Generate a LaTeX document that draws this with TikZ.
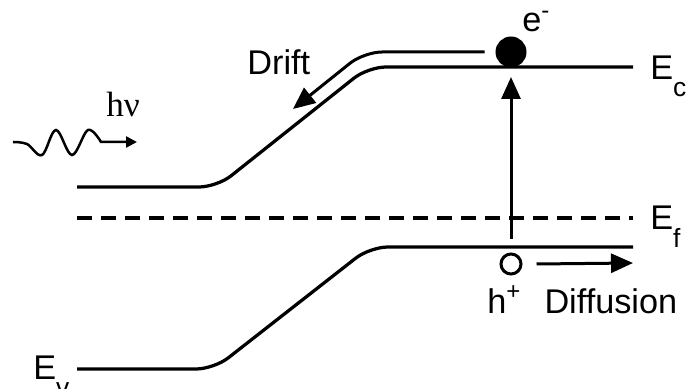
\documentclass[tikz,border=0pt]{standalone}
\usepackage{fontspec}
\setmainfont{Liberation Sans}
\newfontfamily\nufont{Liberation Serif}
\usepackage{tikz}
\usetikzlibrary{positioning,arrows.meta}
\definecolor{bLine}{RGB}{0,0,0}
\tikzset{
  band/.style={draw=bLine, line width=0.65mm, rounded corners=3.6mm},
  fermi/.style={draw=bLine, line width=0.9mm, dash pattern=on 3mm off 1.8mm},
  flow/.style={-{Triangle[length=4.4mm,width=3.8mm]}, draw=bLine, line width=0.6mm},
  photon/.style={-{Triangle[length=2.2mm,width=2.2mm]}, draw=bLine, line width=0.5mm},
  lbl/.style={font=\fontsize{19.5}{22}\selectfont, inner sep=0pt, anchor=base west},
  carrier/.style={circle, draw=bLine, line width=0.6mm, inner sep=0pt},
}
\newcommand{\lvlsub}[1]{\raisebox{-3.4mm}{\fontsize{15}{17}\selectfont #1}}

\begin{document}
\begin{tikzpicture}[x=0.2mm, y=-0.2mm]
  \useasboundingbox (0,0) rectangle (688,389);

  % --- band edges and Fermi level ---
  \draw[band] (77,187) -- (217,187) -- (368,67) -- (633,67);
  \draw[fermi] (77,218) -- (633,218);
  \draw[band] (77,369) -- (214,369) -- (370,247) -- (633,247);

  % --- electron and hole ---
  \node[carrier, fill=bLine, minimum size=5.6mm] (elec) at (511,52) {};
  \node[carrier, fill=white, minimum size=4mm] (hole) at (511,264) {};

  % --- excitation, drift and diffusion ---
  \coordinate (excite) at (511,239);
  \coordinate (exciteTip) at (511,77);
  \coordinate (driftTurn) at (364,52);
  \coordinate (driftEnd) at (293,109);
  \coordinate (diffEnd) at (633,263);
  \draw[flow] (excite) -- (exciteTip);
  \draw[flow, rounded corners=3.6mm] ([xshift=-2.2mm]elec.west) -- (driftTurn) -- (driftEnd);
  \draw[flow] ([xshift=2.8mm]hole.east) -- (diffEnd);

  % --- incoming photon ---
  \draw[photon] plot[smooth, tension=0.6] coordinates
    {(13,142) (27,144) (42,155) (56,130) (72,155) (88,130) (101,142)} -- (137,142);

  % --- labels ---
  \node[lbl] (hnu) at (106,117) {\nufont\fontsize{20}{23}\selectfont hν};
  \node[lbl] (driftLab) at (247,75) {Drift};
  \node[lbl] (eLab) at (522,32) {e\textsuperscript{-}};
  \node[lbl] (ecLab) at (650,80) {E\lvlsub{c}};
  \node[lbl] (efLab) at (650,230) {E\lvlsub{f}};
  \node[lbl] (evLab) at (33,379) {E\lvlsub{v}};
  \node[lbl] (hLab) at (487,313) {h\textsuperscript{+}};
  \node[lbl, base right=4.5mm of hLab] (diffLab) {Diffusion};
\end{tikzpicture}
\end{document}
